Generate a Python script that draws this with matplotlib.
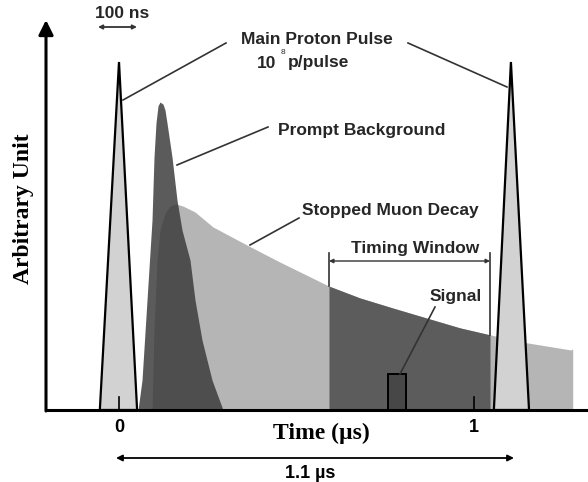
import numpy as np
import matplotlib.pyplot as plt

# time in microseconds, height in arbitrary units (pulse peak = 1)
pulse_t = [-0.054, 0.0, 0.051]
pulse_y = [0.0, 1.0, 0.0]
pulse2_t = [1.056, 1.104, 1.155]

prompt_t = [0.0535, 0.0648, 0.0789, 0.0930, 0.0986, 0.1042, 0.1099, 0.1155,
            0.1239, 0.1296, 0.1352, 0.1493, 0.1634, 0.1775, 0.2000, 0.2141,
            0.2338, 0.2620, 0.2930]
prompt_y = [0.0, 0.086, 0.316, 0.546, 0.727, 0.825, 0.874, 0.885,
            0.879, 0.862, 0.825, 0.727, 0.603, 0.517, 0.431, 0.316,
            0.201, 0.086, 0.0]

muon_t = [0.0930, 0.0986, 0.1070, 0.1155, 0.1296, 0.1437, 0.1606, 0.1803,
          0.2141, 0.2648, 0.3606, 0.4535, 0.5915, 0.6789, 0.7718, 0.8676,
          0.9606, 1.0451, 1.1493, 1.2761]
muon_y = [0.0, 0.230, 0.431, 0.517, 0.566, 0.586, 0.592, 0.586,
          0.569, 0.526, 0.474, 0.425, 0.356, 0.322, 0.293, 0.264,
          0.236, 0.216, 0.193, 0.172]

window = [0.5915, 1.0451]
signal_t = [0.758, 0.808]
signal_h = 0.103
tick_pos = [0, 1]
tick_labels = ['0', '1']

SANS = 'Liberation Sans'
SERIF = 'Liberation Serif'


def px(x, y):
    # figure pixel -> data coords (layout helper)
    return (x - 119) / 355.0, (410 - y) / 348.0


fig = plt.figure(figsize=(5.88, 4.82), dpi=100)
ax = fig.add_axes([0, 0, 1, 1])
x0, y0 = px(0, 482)
x1, y1 = px(588, 0)
ax.set_xlim(x0, x1)
ax.set_ylim(y0, y1)
ax.axis('off')

mt = np.array(muon_t)
my = np.array(muon_y)
ax.fill_between(mt, 0, my, color='#b5b5b5', lw=0, zorder=1)
ax.plot([muon_t[-1], muon_t[-1]], [0, muon_y[-1]], color='#b5b5b5', lw=1, zorder=1)
m = (mt >= window[0]) & (mt <= window[1])
ax.fill_between(mt[m], 0, my[m], color='#5c5c5c', lw=0, zorder=2)
# prompt slightly see-through so the overlap with muon decay is darker
ax.fill_between(prompt_t, 0, prompt_y, color='#373737', alpha=0.82, lw=0, zorder=3)

for t in (pulse_t, pulse2_t):
    ax.fill(t, pulse_y, facecolor='#d2d2d2', edgecolor='black', lw=1.6, zorder=4)

ax.add_patch(plt.Rectangle((signal_t[0], 0), signal_t[1] - signal_t[0], signal_h,
                           facecolor='#474747', edgecolor='black', lw=1.4, zorder=5))

# axes
ax.plot([px(46, 0)[0], x1], [0, 0], color='black', lw=2.2, zorder=6)
ax.annotate('', xy=px(46, 20), xytext=px(46, 411),
            arrowprops=dict(arrowstyle='-|>', lw=2.2, color='black', mutation_scale=22,
                            shrinkA=0, shrinkB=0))
for tp, tl in zip(tick_pos, tick_labels):
    ax.plot([tp, tp], [0, 0.037], color='black', lw=1.2, zorder=6)
    ax.text(tp, px(0, 428)[1], tl, ha='center', va='center', fontsize=13,
            fontweight='bold', family=SANS)

ax.text(*px(23, 209), 'Arbitrary Unit', rotation=90, ha='center', va='center',
        fontsize=17, fontweight='bold', family=SERIF)
ax.text(*px(321, 433), 'Time (µs)', ha='center', va='center',
        fontsize=17, fontweight='bold', family=SERIF)

# bottom period arrow
ax.annotate('', xy=px(514, 458), xytext=px(116, 458),
            arrowprops=dict(arrowstyle='<|-|>', lw=1.3, color='black', mutation_scale=9,
                            shrinkA=0, shrinkB=0))
ax.text(*px(310, 473), '1.1 µs', ha='center', va='center', fontsize=13,
        fontweight='bold', family=SANS)

tc = '#262626'
# 100 ns scale
ax.text(*px(122, 13), '100 ns', ha='center', va='center', fontsize=12.5,
        fontweight='bold', color=tc, family=SANS)
ax.annotate('', xy=px(137, 27), xytext=px(98, 27),
            arrowprops=dict(arrowstyle='<|-|>', lw=1.3, color='#333333', mutation_scale=6,
                            shrinkA=0, shrinkB=0))

# labels
lc = '#333333'
kw = dict(fontsize=12.5, fontweight='bold', color=tc, family=SANS)
ax.text(*px(317, 40), 'Main Proton Pulse', ha='center', va='center', **kw)
ax.text(*px(257, 63), '10', ha='left', va='center', **kw)
ax.text(*px(288, 63), 'p/pulse', ha='left', va='center', **kw)
ax.text(*px(283, 52), '8', ha='center', va='center', fontsize=6, color=tc, family=SANS)
ax.plot(*zip(px(226, 43), px(123, 100)), color=lc, lw=1.2, zorder=7)
ax.plot(*zip(px(408, 43), px(507, 87)), color=lc, lw=1.2, zorder=7)

ax.text(*px(278, 130), 'Prompt Background', ha='left', va='center', **kw)
ax.plot(*zip(px(268, 127), px(177, 165)), color=lc, lw=1.2, zorder=7)

ax.text(*px(302, 210), 'Stopped Muon Decay', ha='left', va='center', **kw)
ax.plot(*zip(px(299, 218), px(250, 245)), color=lc, lw=1.2, zorder=7)

ax.text(*px(415, 248), 'Timing Window', ha='center', va='center', **kw)
ax.plot([window[0], window[0]], [px(0, 253)[1], muon_y[12]], color=lc, lw=1.2, zorder=7)
ax.plot([window[1], window[1]], [px(0, 253)[1], muon_y[17]], color=lc, lw=1.2, zorder=7)
ax.annotate('', xy=(window[1], px(0, 261)[1]), xytext=(window[0], px(0, 261)[1]),
            arrowprops=dict(arrowstyle='<|-|>', lw=1.0, color=lc, mutation_scale=6,
                            shrinkA=0, shrinkB=0))

ax.text(*px(456, 297), 'Signal', ha='center', va='center', **kw)
ax.plot(*zip(px(435, 307), px(400, 374)), color=lc, lw=1.2, zorder=7)

fig.savefig('out.png', dpi=100)
